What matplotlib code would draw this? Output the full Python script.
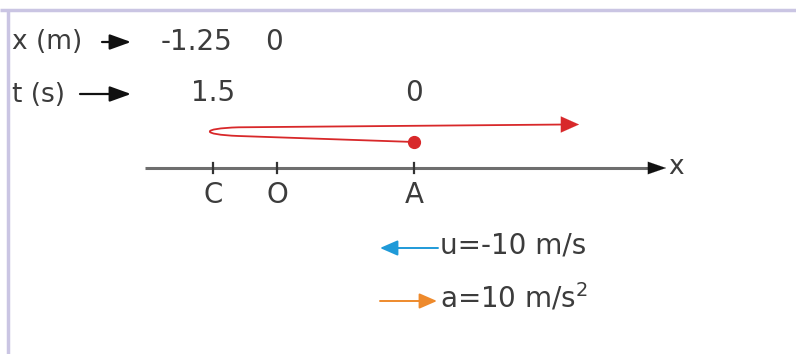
import numpy as np
import matplotlib.pyplot as plt
from matplotlib.path import Path
from matplotlib.patches import PathPatch

# points on the x axis (m), as drawn in the sketch
point_names = ['C', 'O', 'A']
point_x = [-1.25, 0.0, 2.68]

# table rows at the top: label, value text, which point it sits over
x_row_vals = ['-1.25', '0']
x_row_pts = ['C', 'O']
t_row_vals = ['1.5', '0']
t_row_pts = ['C', 'A']

u = -10   # m/s
a = 10    # m/s^2
path_end_x = 5.9   # where the red arrow stops (m)

W, H = 796, 354
px_per_m = 51.2
origin_px = 277

txt = '#3c3c3c'
red = '#d8282a'
fs = 20

fig = plt.figure(figsize=(W / 100, H / 100), dpi=100)
# overlay in pixel units for the layout, and a data axes in metres
lay = fig.add_axes([0, 0, 1, 1])
lay.set_xlim(0, W)
lay.set_ylim(H, 0)
lay.axis('off')
ax = fig.add_axes([0, 0, 1, 1])
ax.set_xlim(-origin_px / px_per_m, (W - origin_px) / px_per_m)
ax.set_ylim(H, 0)
ax.axis('off')
ax.patch.set_alpha(0)

pos = dict(zip(point_names, point_x))

# frame (top and left only)
lay.plot([0, W], [9.5, 9.5], color='#cac5e3', lw=2.5, solid_capstyle='butt')
lay.plot([7.5, 7.5], [9.5, H], color='#cac5e3', lw=2.5, solid_capstyle='butt')

# x axis
y_axis = 168
x0 = -2.58
x1 = 7.25
ax.plot([x0, x1], [y_axis, y_axis], color='#6e6e6e', lw=2.2, solid_capstyle='butt')
ax.annotate('', xy=(x1 + 0.35, y_axis), xytext=(x1 - 0.05, y_axis),
            arrowprops=dict(arrowstyle='-|>,head_length=1.3,head_width=0.45',
                            color='#111111', lw=0.1, shrinkA=0, shrinkB=0))
lay.text(676, y_axis - 1, 'x', ha='center', va='center', fontsize=fs - 1, color=txt)

for name, xv in zip(point_names, point_x):
    ax.plot([xv, xv], [y_axis - 5, y_axis + 5], color='#333333', lw=1.6)
    ax.text(xv, 195, name, ha='center', va='center', fontsize=fs, color=txt)

# table rows
lay.text(12, 42, 'x (m)', ha='left', va='center', fontsize=fs - 1, color=txt)
lay.annotate('', xy=(131, 42), xytext=(102, 42),
             arrowprops=dict(arrowstyle='-|>,head_length=1.3,head_width=0.47',
                             color='#111111', lw=1.6, shrinkA=0, shrinkB=0))
lay.text(12, 95, 't (s)', ha='left', va='center', fontsize=fs - 1, color=txt)
lay.annotate('', xy=(131, 94), xytext=(80, 94),
             arrowprops=dict(arrowstyle='-|>,head_length=1.3,head_width=0.47',
                             color='#111111', lw=1.6, shrinkA=0, shrinkB=0))

for v, p in zip(x_row_vals, x_row_pts):
    dx = -0.33 if v.startswith('-') else -0.05
    ax.text(pos[p] + dx, 42, v, ha='center', va='center', fontsize=fs, color=txt)
for v, p in zip(t_row_vals, t_row_pts):
    ax.text(pos[p], 93, v, ha='center', va='center', fontsize=fs, color=txt)

# red trajectory: start at A, go back to C, turn, run off to the right
xa, xc = pos['A'], pos['C']
verts = [(xa, 142), (xc + 0.5, 136), (xc - 0.25, 134.5), (xc - 0.25, 128.5),
         (xc + 0.5, 127.3), (path_end_x - 0.25, 124.5)]
codes = [Path.MOVETO, Path.LINETO, Path.CURVE4, Path.CURVE4, Path.CURVE4, Path.LINETO]
ax.add_patch(PathPatch(Path(verts, codes), fill=False, edgecolor=red, lw=1.3))
ax.annotate('', xy=(path_end_x, 124.5), xytext=(path_end_x - 0.3, 124.5),
            arrowprops=dict(arrowstyle='-|>,head_length=1.3,head_width=0.58',
                            color=red, lw=0.1, shrinkA=0, shrinkB=0))
ax.plot([xa], [142], 'o', color=red, ms=8.5)

# velocity and acceleration arrows
lay.annotate('', xy=(380, 248), xytext=(438, 248),
             arrowprops=dict(arrowstyle='-|>,head_length=1.08,head_width=0.47',
                             color='#1f9ad8', lw=1.4, shrinkA=0, shrinkB=0))
lay.text(440, 245, 'u=%d m/s' % u, ha='left', va='center', fontsize=fs, color=txt)
lay.annotate('', xy=(437, 301), xytext=(380, 301),
             arrowprops=dict(arrowstyle='-|>,head_length=1.08,head_width=0.47',
                             color='#ee8a2c', lw=1.4, shrinkA=0, shrinkB=0))
lay.text(440, 298, 'a=%d m/s$^2$' % a, ha='left', va='center', fontsize=fs, color=txt)

fig.savefig('out.png', dpi=100, facecolor='white')
